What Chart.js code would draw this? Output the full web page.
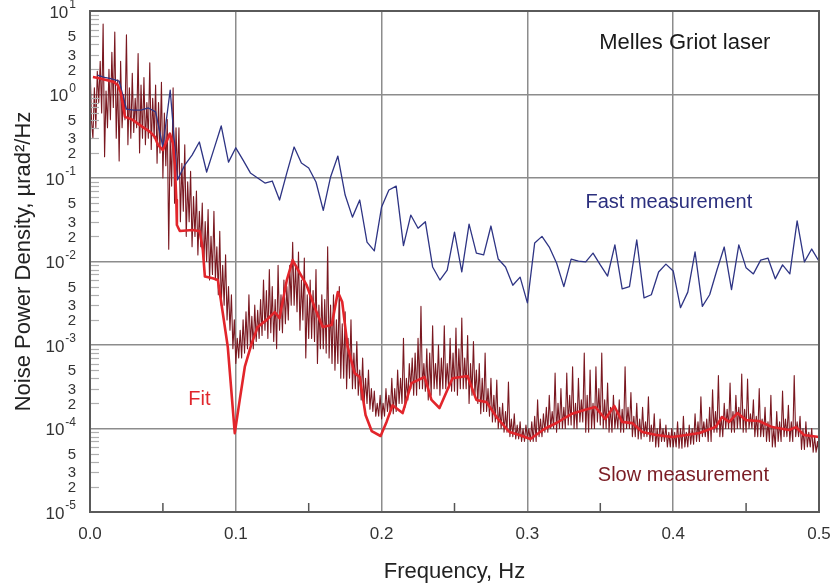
<!DOCTYPE html>
<html>
<head>
<meta charset="utf-8">
<script src="https://cdn.jsdelivr.net/npm/chart.js@4.4.1/dist/chart.umd.min.js"></script>
<style>
  html, body { margin: 0; padding: 0; background: #fff; }
  canvas { display: block; }
</style>
</head>
<body>
<canvas id="noiseChart" width="832" height="583"></canvas>
<script>
// fast measurement, one value every 0.005 Hz starting at 0.005
let fastStart = 0.005, fastStep = 0.005;
let fastVals = [
  1.71, 1.6, 1.54, 1.45, 0.67, 0.65, 0.65, 0.69, 0.62, 0.235,
  1.13, 0.095, 0.143, 0.188, 0.27, 0.118, 0.222, 0.42, 0.155, 0.23,
  0.164, 0.115, 0.1, 0.087, 0.092, 0.0545, 0.115, 0.235, 0.151, 0.132,
  0.0895, 0.041, 0.103, 0.183, 0.0625, 0.034, 0.0545, 0.0171, 0.0134, 0.045,
  0.0718, 0.08, 0.0155, 0.036, 0.025, 0.03, 0.0086, 0.006, 0.0079, 0.0225,
  0.0075, 0.028, 0.0126, 0.012, 0.0266, 0.0107, 0.0086, 0.0052, 0.0065, 0.0032,
  0.0167, 0.02, 0.0149, 0.0096, 0.005, 0.0107, 0.0101, 0.0099, 0.0126, 0.0091,
  0.0067, 0.0158, 0.0047, 0.005, 0.0181, 0.00366, 0.004, 0.0075, 0.0093, 0.0077,
  0.0028, 0.0043, 0.013, 0.0029, 0.004, 0.0079, 0.0149, 0.0046, 0.0158, 0.0084,
  0.0071, 0.0104, 0.011, 0.0062, 0.0091, 0.0071, 0.0306, 0.0099, 0.0141, 0.0101
];

// slow measurement, one value every 0.001 Hz starting at 0 (20 per row)
let slowStart = 0, slowStep = 0.001;
let slowVals = [
  2.6, 0.5, 0.3, 1.2, 0.4, 1.9, 0.8, 2.5, 0.6, 7.0, 0.18, 1.1, 0.4, 2.0, 0.5, 3.2, 0.7, 5.6, 0.3, 1.5,
  0.16, 2.5, 0.4, 1.0, 0.5, 5.2, 0.25, 1.2, 0.3, 1.8, 0.35, 0.9, 0.4, 3.1, 0.2, 1.3, 0.3, 1.6, 0.25, 0.8,
  0.3, 2.4, 0.22, 0.9, 0.3, 1.3, 0.15, 0.8, 0.2, 1.4, 0.1, 0.6, 0.14, 0.5, 0.014, 0.3, 0.08, 1.2, 0.05, 0.4,
  0.1, 0.4, 0.03, 0.15, 0.04, 0.25, 0.02, 0.09, 0.03, 0.12, 0.015, 0.06, 0.02, 0.07, 0.012, 0.04, 0.015, 0.05, 0.008, 0.03,
  0.01, 0.042, 0.006, 0.02, 0.007, 0.04, 0.006, 0.015, 0.004, 0.023, 0.003, 0.009, 0.003, 0.012, 0.002, 0.005, 0.0015, 0.004, 0.0009, 0.002,
  0.0006, 0.0012, 0.0007, 0.0015, 0.0007, 0.002, 0.0008, 0.0025, 0.0009, 0.004, 0.001, 0.0022, 0.0009, 0.003, 0.0011, 0.0026, 0.0012, 0.0035, 0.0013, 0.006,
  0.0015, 0.0045, 0.0012, 0.008, 0.0014, 0.005, 0.0011, 0.0035, 0.0009, 0.009, 0.0015, 0.004, 0.0014, 0.006, 0.0018, 0.005, 0.002, 0.009, 0.003, 0.017,
  0.003, 0.009, 0.0025, 0.013, 0.0015, 0.006, 0.002, 0.011, 0.0007, 0.004, 0.0012, 0.006, 0.0012, 0.0045, 0.0011, 0.008, 0.0006, 0.003, 0.0009, 0.004,
  0.0009, 0.0035, 0.0008, 0.015, 0.0007, 0.003, 0.0006, 0.004, 0.0005, 0.002, 0.0006, 0.005, 0.0004, 0.0018, 0.0004, 0.0025, 0.0003, 0.0012, 0.0004, 0.002,
  0.0003, 0.0008, 0.0003, 0.0011, 0.00025, 0.0005, 0.00022, 0.0007, 0.0002, 0.0004, 0.0002, 0.0005, 0.00017, 0.0003, 0.00016, 0.00028, 0.00014, 0.0002, 0.00014, 0.00025,
  0.00013, 0.0002, 0.00014, 0.0003, 0.00016, 0.00025, 0.00015, 0.0004, 0.00015, 0.0003, 0.00016, 0.0005, 0.0002, 0.0004, 0.0002, 0.0012, 0.00018, 0.0004, 0.00022, 0.0006,
  0.0003, 0.0007, 0.00025, 0.0008, 0.00025, 0.0012, 0.0003, 0.0029, 0.0003, 0.0006, 0.00028, 0.0009, 0.00022, 0.0008, 0.00025, 0.0017, 0.0003, 0.0006, 0.0003, 0.001,
  0.00025, 0.0007, 0.0003, 0.0017, 0.0003, 0.0006, 0.0003, 0.0012, 0.00028, 0.0008, 0.00028, 0.0016, 0.00025, 0.0009, 0.0003, 0.0021, 0.0003, 0.0007, 0.0003, 0.0013,
  0.0002, 0.0006, 0.00025, 0.0011, 0.00025, 0.0005, 0.0002, 0.0006, 0.00015, 0.0004, 0.00016, 0.0008, 0.00016, 0.0003, 0.00014, 0.0004, 0.00012, 0.00025, 0.00012, 0.00038,
  0.0001, 0.00018, 0.0001, 0.0002, 0.00009, 0.00016, 0.00009, 0.00036, 0.00008, 0.00013, 0.00008, 0.00015, 0.000075, 0.00011, 0.000075, 0.00012, 0.00007, 0.0001, 0.00007, 0.00011,
  0.000075, 0.0001, 0.00007, 0.00012, 0.00007, 0.00014, 0.00007, 0.00022, 0.00008, 0.00013, 0.00008, 0.00015, 0.00009, 0.00018, 0.00009, 0.00025, 0.0001, 0.00016, 0.0001, 0.00046,
  0.00009, 0.0002, 0.0001, 0.0003, 0.0001, 0.00018, 0.0001, 0.00046, 0.00011, 0.00025, 0.00011, 0.00055, 0.0001, 0.0002, 0.0001, 0.0004, 0.00012, 0.00022, 0.00012, 0.0008,
  0.00009, 0.00025, 0.00009, 0.0005, 0.0001, 0.0002, 0.0001, 0.00055, 0.00012, 0.0003, 0.00011, 0.0008, 0.0001, 0.00022, 0.0001, 0.00035, 0.00009, 0.00018, 0.00009, 0.00025,
  0.0001, 0.00016, 0.0001, 0.00022, 0.00009, 0.00017, 0.00009, 0.00055, 0.0001, 0.00018, 0.0001, 0.00027, 0.00008, 0.00014, 0.00008, 0.0002, 0.000075, 0.00013, 0.000075, 0.00018,
  0.00008, 0.00012, 0.00008, 0.00024, 0.00007, 0.00011, 0.00007, 0.00015, 0.00006, 0.0001, 0.00006, 0.00013, 0.00007, 0.0001, 0.00007, 0.00011, 0.00006, 0.00009, 0.00006, 0.0001,
  0.00006, 0.00009, 0.00006, 0.00012, 0.000058, 0.0001, 0.000058, 0.00014, 0.00006, 0.00009, 0.00006, 0.00011, 0.000065, 0.0001, 0.000065, 0.00015, 0.00007, 0.00012, 0.00007, 0.00024,
  0.00008, 0.00012, 0.00008, 0.00013, 0.00007, 0.00018, 0.00007, 0.00029, 0.00009, 0.00016, 0.00009, 0.00043, 0.00008, 0.00014, 0.00008, 0.0002, 0.0001, 0.00017, 0.0001, 0.00035,
  0.00009, 0.00016, 0.00009, 0.00025, 0.0001, 0.00018, 0.0001, 0.00045, 0.00009, 0.00017, 0.00009, 0.00039, 0.0001, 0.00015, 0.0001, 0.00022, 0.00008, 0.00014, 0.00008, 0.0003,
  0.00008, 0.00013, 0.00008, 0.00018, 0.00007, 0.00012, 0.00007, 0.00025, 0.00006, 0.0001, 0.00006, 0.00016, 0.00007, 0.00012, 0.00007, 0.00028, 0.00008, 0.00013, 0.00008, 0.00019,
  0.00007, 0.00012, 0.00007, 0.00043, 0.00008, 0.00012, 0.00008, 0.00014, 0.000056, 0.0001, 0.000056, 0.00012, 0.00006, 0.00009, 0.00006, 0.0001, 0.000052, 0.00008, 0.000052, 0.00007,
  0.000048
];

// fit curve vertices
let fitFreq = [
  0.002, 0.0055, 0.016, 0.019, 0.021, 0.024, 0.029, 0.036, 0.041, 0.0445,
  0.0466, 0.05, 0.0548, 0.0568, 0.0582, 0.0592, 0.0596, 0.0616, 0.0705, 0.0753,
  0.0774, 0.0788, 0.0842, 0.0877, 0.0911, 0.0945, 0.0993, 0.1027, 0.1062, 0.111,
  0.115, 0.1212, 0.1267, 0.13, 0.135, 0.139, 0.1438, 0.1486, 0.154, 0.1596,
  0.1658, 0.17, 0.173, 0.1767, 0.1815, 0.185, 0.189, 0.1932, 0.1993, 0.2034,
  0.2075, 0.2144, 0.2205, 0.2295, 0.2342, 0.2397, 0.2486, 0.2589, 0.265, 0.272,
  0.2788, 0.2877, 0.2945, 0.302, 0.3116, 0.3205, 0.3301, 0.339, 0.3466, 0.3534,
  0.3596, 0.365, 0.372, 0.3788, 0.3884, 0.3993, 0.409, 0.418, 0.429, 0.4336,
  0.4384, 0.444, 0.45, 0.4589, 0.4678, 0.4795, 0.4842, 0.4897, 0.5
];
let fitVals = [
  1.62, 1.58, 1.42, 1.30, 1.07, 0.54, 0.50, 0.41, 0.36, 0.31,
  0.25, 0.216, 0.34, 0.262, 0.143, 0.0545, 0.0274, 0.0232, 0.0238, 0.023,
  0.0137, 0.0066, 0.0063, 0.006, 0.0024, 0.00095, 0.000088, 0.00022, 0.00055, 0.00106,
  0.00164, 0.002, 0.00248, 0.0021, 0.006, 0.0104, 0.0073, 0.0052, 0.00285, 0.00164,
  0.00174, 0.0043, 0.00327, 0.00095, 0.00046, 0.000414, 0.000145, 0.0000933, 0.0000813, 0.00012,
  0.00019, 0.000153, 0.00035, 0.000414, 0.00022, 0.000176, 0.0004, 0.000425, 0.00022, 0.000207,
  0.000137, 0.0000908, 0.0000836, 0.0000748, 0.0000986, 0.000118, 0.000149, 0.000167, 0.000181, 0.00013,
  0.000186, 0.00012, 0.000116, 0.0000908, 0.0000836, 0.0000791, 0.0000836, 0.0000883, 0.000104, 0.000137,
  0.00012, 0.000153, 0.000126, 0.000123, 0.000104, 0.0000959, 0.000104, 0.0000836, 0.0000791
];

let xTickLabels = ['0.0', '0.1', '0.2', '0.3', '0.4', '0.5'];
let yMinorLabels = [2, 3, 5];
let notes = [
  { text: 'Melles Griot laser', x: 0.408, y: 4.2, color: '#1a1a1a', size: 22 },
  { text: 'Fast measurement', x: 0.397, y: 0.0505, color: '#2b2f7e', size: 20 },
  { text: 'Fit', x: 0.075, y: 0.00022, color: '#e0262c', size: 20 },
  { text: 'Slow measurement', x: 0.407, y: 0.0000275, color: '#7a1c24', size: 20 }
];

let fontFam = '"Liberation Sans", Arial, sans-serif';

function toPoints(start, step, vals) {
  let pts = [];
  for (let i = 0; i < vals.length; i++) {
    pts.push({ x: +(start + i * step).toFixed(4), y: vals[i] });
  }
  return pts;
}
let fitPts = fitFreq.map((f, i) => ({ x: f, y: fitVals[i] }));

function isDecade(v) {
  let l = Math.log10(v);
  return Math.abs(l - Math.round(l)) < 1e-6;
}
function isMajorX(v) {
  return Math.round(v * 20) % 2 === 0;
}

let decor = {
  id: 'decor',
  afterDatasetsDraw(chart) {
    let ctx = chart.ctx;
    let a = chart.chartArea;
    let xs = chart.scales.x, ys = chart.scales.y;
    ctx.save();
    // minor y ticks inside left edge
    ctx.strokeStyle = '#b0b0b0';
    ctx.lineWidth = 1.2;
    for (let e = -5; e < 1; e++) {
      for (let m = 2; m <= 9; m++) {
        let y = Math.round(ys.getPixelForValue(m * Math.pow(10, e))) + 0.5;
        ctx.beginPath();
        ctx.moveTo(a.left, y);
        ctx.lineTo(a.left + 9, y);
        ctx.stroke();
      }
    }
    // minor x ticks on bottom edge
    ctx.strokeStyle = '#555';
    ctx.lineWidth = 1.5;
    for (let k = 1; k < 10; k += 2) {
      let x = xs.getPixelForValue(k * 0.05);
      ctx.beginPath();
      ctx.moveTo(x, a.bottom);
      ctx.lineTo(x, a.bottom - 9);
      ctx.stroke();
    }
    // frame
    ctx.strokeStyle = '#5a5a5a';
    ctx.lineWidth = 2;
    ctx.strokeRect(a.left, a.top, a.right - a.left, a.bottom - a.top);

    // y labels
    ctx.fillStyle = '#333';
    ctx.textAlign = 'right';
    ctx.textBaseline = 'middle';
    let rx = a.left - 14;
    for (let e = -5; e <= 1; e++) {
      let y = ys.getPixelForValue(Math.pow(10, e));
      let ex = String(e);
      ctx.font = '12px ' + fontFam;
      let w = ctx.measureText(ex).width;
      ctx.fillText(ex, rx, y - 6);
      ctx.font = '17px ' + fontFam;
      ctx.fillText('10', rx - w - 1, y + 2);
      if (e < 1) {
        ctx.font = '15px ' + fontFam;
        yMinorLabels.forEach(m => {
          let ym = ys.getPixelForValue(m * Math.pow(10, e));
          ctx.fillText(String(m), rx, ym + 1);
        });
      }
    }

    // annotations
    ctx.textAlign = 'center';
    notes.forEach(n => {
      ctx.font = n.size + 'px ' + fontFam;
      ctx.fillStyle = n.color;
      ctx.fillText(n.text, xs.getPixelForValue(n.x), ys.getPixelForValue(n.y));
    });
    ctx.restore();
  }
};

let canvas = document.getElementById('noiseChart');
let myChart = new Chart(canvas.getContext('2d'), {
  type: 'line',
  data: {
    datasets: [
      { label: 'Fit', data: fitPts, borderColor: '#e2252b', borderWidth: 2.6, order: 0 },
      { label: 'Fast measurement', data: toPoints(fastStart, fastStep, fastVals), borderColor: '#2e3484', borderWidth: 1.3, order: 1 },
      { label: 'Slow measurement', data: toPoints(slowStart, slowStep, slowVals), borderColor: '#7a1820', borderWidth: 1.1, order: 2 }
    ]
  },
  options: {
    responsive: false,
    animation: false,
    layout: { padding: { top: 11, right: 13, bottom: 0, left: 0 } },
    elements: { point: { radius: 0 }, line: { tension: 0, borderJoinStyle: 'round' } },
    plugins: { legend: { display: false }, tooltip: { enabled: false } },
    scales: {
      x: {
        type: 'linear', min: 0, max: 0.5,
        ticks: {
          stepSize: 0.05, padding: 12, color: '#333', autoSkip: false, maxRotation: 0,
          font: { family: fontFam, size: 17 },
          callback: v => isMajorX(v) ? xTickLabels[Math.round(v * 10)] : ''
        },
        grid: {
          drawTicks: false,
          lineWidth: 1.5,
          color: c => (c.tick && isMajorX(c.tick.value) && c.tick.value > 0.01 && c.tick.value < 0.49) ? '#8c8c8c' : 'rgba(0,0,0,0)'
        },
        border: { display: false },
        title: { display: true, text: 'Frequency, Hz', color: '#222', font: { family: fontFam, size: 22, lineHeight: 1 }, padding: { top: 0, bottom: 0 } },
        afterFit: s => { s.height = 71; s.paddingLeft = 0; s.paddingRight = 0; }
      },
      y: {
        type: 'logarithmic', min: 1e-5, max: 10,
        afterBuildTicks: s => {
          let t = [];
          for (let e = -5; e <= 1; e++) {
            for (let m = 1; m < 10; m++) {
              let v = m * Math.pow(10, e);
              if (v <= 10.0001) t.push({ value: v });
            }
          }
          s.ticks = t;
        },
        ticks: { display: false },
        grid: {
          drawTicks: false,
          lineWidth: 1.5,
          color: c => (c.tick && isDecade(c.tick.value) && c.tick.value > 2e-5 && c.tick.value < 5) ? '#8c8c8c' : 'rgba(0,0,0,0)'
        },
        border: { display: false },
        title: { display: true, text: 'Noise Power Density, \u00b5rad\u00b2/Hz', color: '#222', font: { family: fontFam, size: 22, lineHeight: 1 }, padding: { top: 13, bottom: 0 } },
        afterFit: s => { s.width = 90; s.paddingTop = 0; s.paddingBottom = 0; }
      }
    }
  },
  plugins: [decor]
});
</script>
</body>
</html>
